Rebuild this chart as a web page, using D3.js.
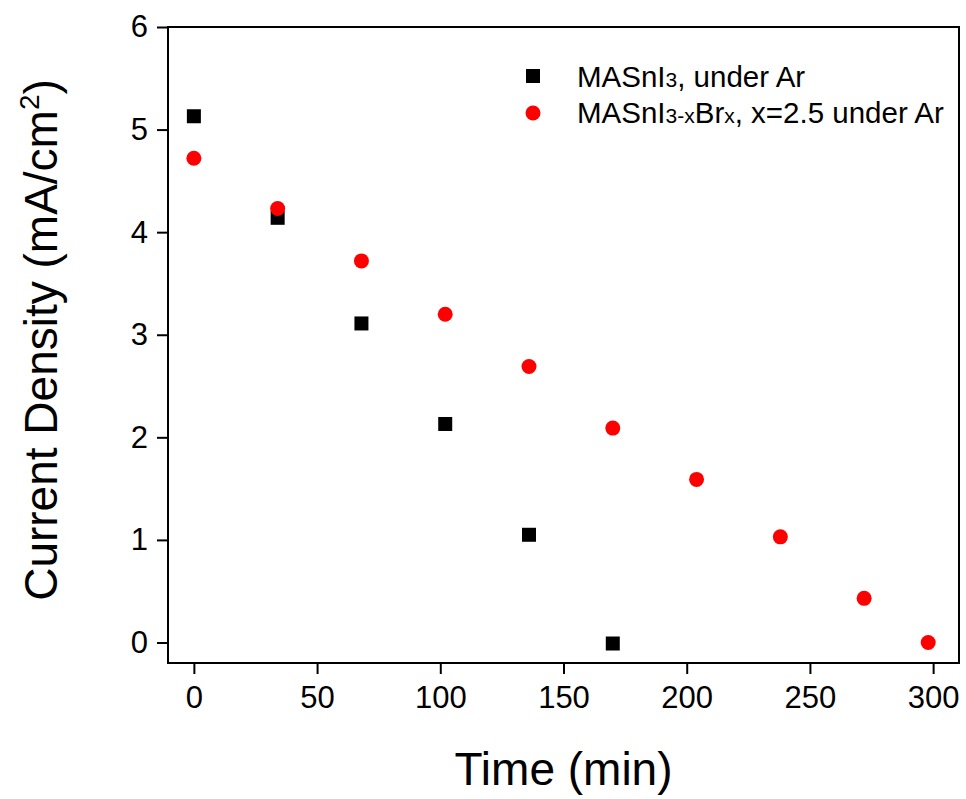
<!DOCTYPE html>
<html>
<head>
<meta charset="utf-8">
<script src="https://cdn.jsdelivr.net/npm/d3@7"></script>
<style>
  body { margin: 0; background: #fff; }
  text { font-family: "Liberation Sans", Arial, sans-serif; }
</style>
</head>
<body>
<div id="vis"></div>
<script>
// data
const timeMASnI3 = [0, 34, 68, 102, 136, 170]
const currMASnI3 = [5.13, 4.14, 3.11, 2.13, 1.05, -0.01]
const timeBr = [0, 34, 68, 102, 136, 170, 204, 238, 272, 298]
const currBr = [4.72, 4.23, 3.72, 3.20, 2.69, 2.09, 1.59, 1.03, 0.43, 0.0]
const xTicks = [0, 50, 100, 150, 200, 250, 300]
const yTicks = [0, 1, 2, 3, 4, 5, 6]

const W = 966, H = 799
const margin = {left: 168, top: 27, right: 7, bottom: 136}

const svg = d3.select("#vis").append("svg")
    .attr("width", W)
    .attr("height", H)

const x = d3.scaleLinear().domain([-10.5, 310.5]).range([margin.left, W - margin.right])
const y = d3.scaleLinear().domain([-0.2, 6]).range([H - margin.bottom, margin.top])

// axes
const xAxis = svg.append("g")
    .attr("transform", `translate(0,${H - margin.bottom})`)
    .call(d3.axisBottom(x).tickValues(xTicks).tickFormat(d3.format("d"))
        .tickSize(11).tickSizeOuter(0).tickPadding(12))
const yAxis = svg.append("g")
    .attr("transform", `translate(${margin.left},0)`)
    .call(d3.axisLeft(y).tickValues(yTicks).tickFormat(d3.format("d"))
        .tickSize(11).tickSizeOuter(0).tickPadding(9))

for (const g of [xAxis, yAxis]) {
    g.select(".domain").remove()
    g.selectAll(".tick line").attr("stroke", "#000").attr("stroke-width", 2)
    g.selectAll(".tick text").attr("fill", "#000").style("font-size", "31px")
}

// frame
svg.append("rect")
    .attr("x", margin.left)
    .attr("y", margin.top)
    .attr("width", W - margin.right - margin.left)
    .attr("height", H - margin.bottom - margin.top)
    .attr("fill", "none")
    .attr("stroke", "#000")
    .attr("stroke-width", 2)

// points
const sq = 14
svg.selectAll(".sq")
    .data(d3.zip(timeMASnI3, currMASnI3))
    .enter().append("rect")
    .attr("class", "sq")
    .attr("x", d => x(d[0]) - sq / 2)
    .attr("y", d => y(d[1]) - sq / 2)
    .attr("width", sq)
    .attr("height", sq)
    .attr("fill", "#000")

svg.selectAll(".dot")
    .data(d3.zip(timeBr, currBr))
    .enter().append("circle")
    .attr("class", "dot")
    .attr("cx", d => x(d[0]))
    .attr("cy", d => y(d[1]))
    .attr("r", 7.5)
    .attr("fill", "#ff0000")

// axis titles
svg.append("text")
    .attr("x", (margin.left + W - margin.right) / 2)
    .attr("y", 785)
    .attr("text-anchor", "middle")
    .style("font-size", "46px")
    .text("Time (min)")

const yt = svg.append("text")
    .attr("transform", "translate(57,340) rotate(-90)")
    .attr("text-anchor", "middle")
    .style("font-size", "46px")
yt.append("tspan").text("Current Density (mA/cm")
yt.append("tspan").attr("dy", -18).style("font-size", "28px").text("2")
yt.append("tspan").attr("dy", 18).text(")")

// legend
const leg = svg.append("g")
leg.append("rect").attr("x", 533 - sq / 2).attr("y", 76 - sq / 2)
    .attr("width", sq).attr("height", sq).attr("fill", "#000")
leg.append("circle").attr("cx", 533).attr("cy", 113).attr("r", 7.5).attr("fill", "#ff0000")

const l1 = leg.append("text").attr("x", 577).attr("y", 87).style("font-size", "29.5px")
l1.append("tspan").text("MASnI")
l1.append("tspan").style("font-size", "21px").text("3")
l1.append("tspan").text(", under Ar")

const l2 = leg.append("text").attr("x", 577).attr("y", 123).style("font-size", "29.5px")
l2.append("tspan").text("MASnI")
l2.append("tspan").style("font-size", "21px").text("3-x")
l2.append("tspan").text("Br")
l2.append("tspan").style("font-size", "21px").text("x")
l2.append("tspan").text(", x=2.5 under Ar")
</script>
</body>
</html>
